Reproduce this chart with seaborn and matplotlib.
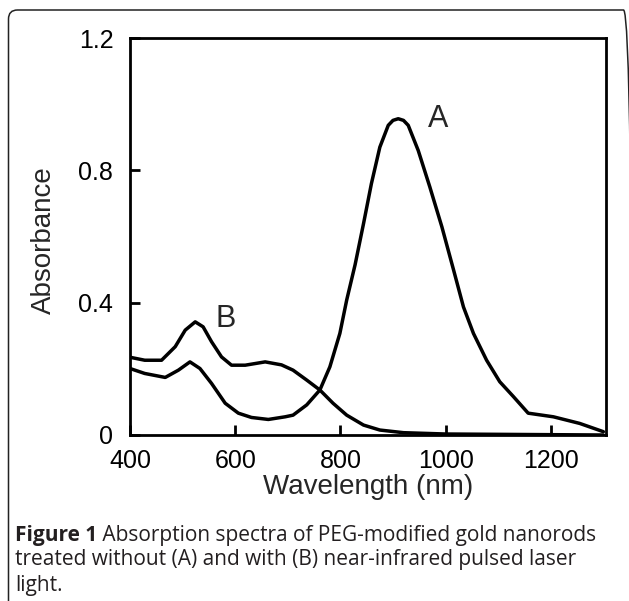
import numpy as np
import pandas as pd
import matplotlib
matplotlib.use('Agg')
import matplotlib.pyplot as plt
from matplotlib.patches import FancyBboxPatch
from matplotlib.transforms import IdentityTransform
import seaborn as sns

# ── Spectrum A: PEG gold nanorods, untreated ──
wl_a = [400, 428, 467, 492, 514, 533, 555, 581, 606, 631, 663, 695, 710, 736,
        761, 780, 799, 812, 828, 844, 859, 875, 891, 900, 910, 920, 929, 948,
        970, 993, 1015, 1034, 1053, 1078, 1103, 1129, 1157, 1205, 1255, 1300]
abs_a = [0.201, 0.186, 0.174, 0.196, 0.221, 0.201, 0.156, 0.096, 0.066, 0.053,
         0.047, 0.055, 0.060, 0.091, 0.136, 0.206, 0.307, 0.408, 0.515, 0.639,
         0.760, 0.870, 0.936, 0.951, 0.956, 0.951, 0.936, 0.860, 0.750, 0.629,
         0.500, 0.387, 0.307, 0.226, 0.161, 0.116, 0.066, 0.055, 0.035, 0.010]

# ── Spectrum B: after near-infrared pulsed laser ──
wl_b = [400, 428, 460, 486, 505, 524, 539, 555, 574, 593, 619, 657, 688, 710,
        736, 761, 786, 812, 844, 875, 920, 1000, 1100, 1200, 1300]
abs_b = [0.235, 0.226, 0.226, 0.267, 0.317, 0.342, 0.327, 0.282, 0.236, 0.211,
         0.211, 0.221, 0.212, 0.196, 0.166, 0.136, 0.096, 0.060, 0.030, 0.015,
         0.007, 0.003, 0.002, 0.001, 0.0]

x_ticks = [400, 600, 800, 1000, 1200]
y_ticks = [0, 0.4, 0.8, 1.2]
y_tick_labels = ['0', '0.4', '0.8', '1.2']

curve_labels = ['A', 'B']
label_pos = [(985, 0.955), (581, 0.352)]

caption_bold = 'Figure 1'
caption_lines = [' Absorption spectra of PEG-modified gold nanorods',
                 'treated without (A) and with (B) near-infrared pulsed laser',
                 'light.']

df = pd.concat([pd.DataFrame({'wl': wl_a, 'abs': abs_a, 'sample': 'A'}),
                pd.DataFrame({'wl': wl_b, 'abs': abs_b, 'sample': 'B'})])

sns.set_theme(style='ticks')
plt.rcParams['font.family'] = ['Liberation Sans', 'DejaVu Sans']

W, H = 629, 601
fig = plt.figure(figsize=(W / 100, H / 100), dpi=100)
ax = fig.add_axes([130 / W, 1 - 435 / H, (606 - 130) / W, (435 - 38) / H])

sns.lineplot(data=df, x='wl', y='abs', hue='sample', sort=False,
             palette={'A': 'black', 'B': 'black'}, lw=2.5, legend=False, ax=ax)

ax.set_xlim(400, 1305)
ax.set_ylim(0, 1.2)
ax.set_xticks(x_ticks)
ax.set_yticks(y_ticks)
ax.set_yticklabels(y_tick_labels)
for s in ax.spines.values():
    s.set_linewidth(2.0)
    s.set_color('black')
ax.tick_params(direction='in', length=7, width=2, labelsize=18, colors='black')
ax.tick_params(axis='x', pad=10)
ax.tick_params(axis='y', pad=12)

ax.set_xlabel('Wavelength (nm)', fontsize=20)
ax.set_ylabel('Absorbance', fontsize=20)
ax.xaxis.set_label_coords(0.5, (435 - 487) / 397)
ax.xaxis.label.set_va('center')
ax.yaxis.set_label_coords((44 - 130) / 476, 0.49)
ax.yaxis.label.set_va('center')

for lab, (x, y) in zip(curve_labels, label_pos):
    ax.text(x, y, lab, fontsize=22, ha='center', va='center')

# caption under the plot
cap_kw = dict(fontsize=15, family=['Open Sans', 'DejaVu Sans'], color='#231f20',
              va='center', transform=IdentityTransform())
t0 = fig.text(15, H - 535, caption_bold, fontweight='bold', **cap_kw)
fig.canvas.draw()
bb = t0.get_window_extent()
fig.text(bb.x1, H - 535, caption_lines[0], **cap_kw)
fig.text(15, H - 560, caption_lines[1], **cap_kw)
fig.text(15, H - 585, caption_lines[2], **cap_kw)

# rounded frame round the figure
frame = FancyBboxPatch((8.5, -20), 624, H - 10 + 20, boxstyle='round,pad=0,rounding_size=9',
                       transform=IdentityTransform(), fill=False, ec='#222222', lw=1.1)
fig.add_artist(frame)

fig.savefig('out.png', dpi=100)
